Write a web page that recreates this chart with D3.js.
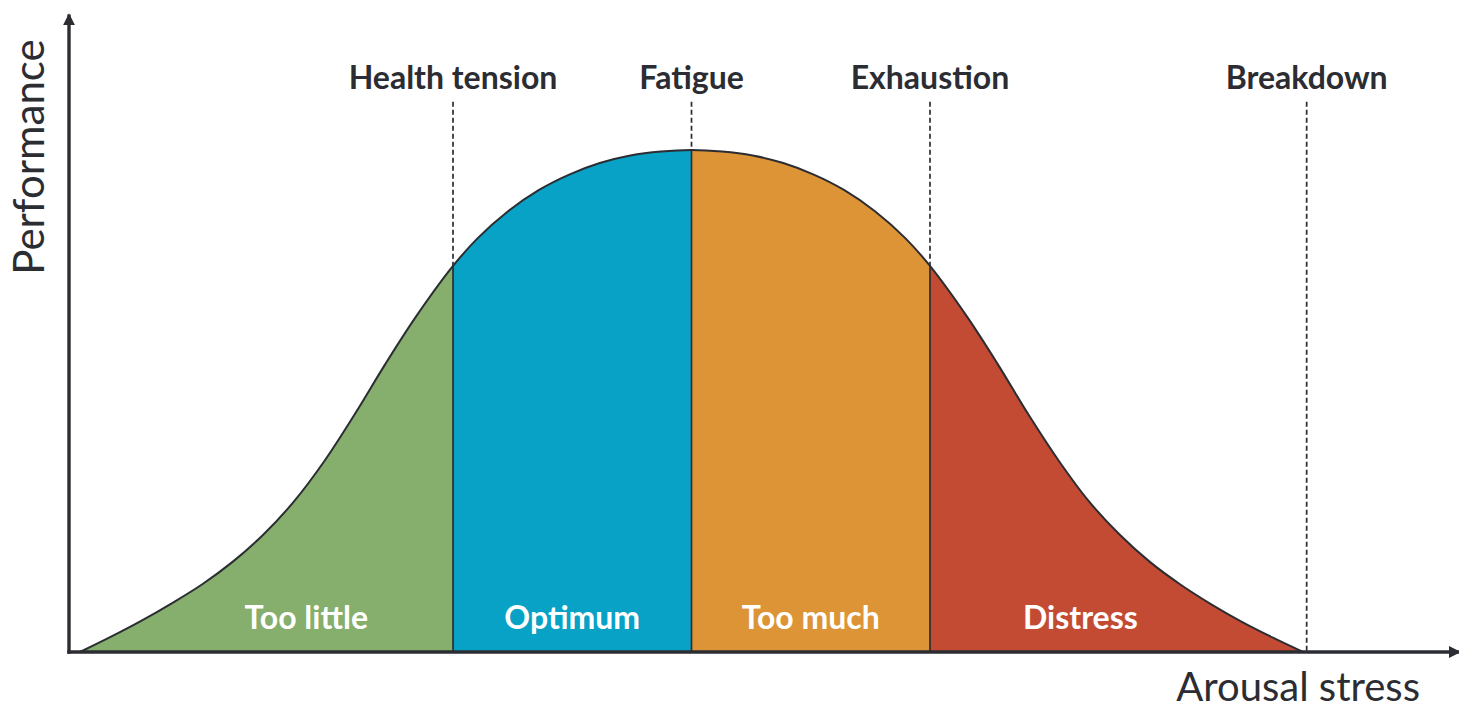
<!DOCTYPE html>
<html>
<head>
<meta charset="utf-8">
<script src="https://cdn.jsdelivr.net/npm/d3@7"></script>
<style>
  body { margin: 0; background: #fff; }
  .label { font-family: Lato, 'Open Sans', sans-serif; fill: #2b2d33; }
  .label--bold { font-weight: 700; }
  .label--zone { fill: #fff; font-weight: 700; }
</style>
</head>
<body>
<svg class="chart"></svg>
<script>
// curve: arousal (x) vs performance (y)
const arousal = [0, 2.5, 5, 7.5, 10, 12.5, 15, 17.5, 20, 22.5, 25, 27.5, 30.5, 32.5, 35, 37.5, 40, 42.5, 45, 47.5,
  50, 52.5, 55, 57.5, 60, 62.5, 65, 67.5, 69.5, 72.5, 75, 77.5, 80, 82.5, 85, 87.5, 90, 92.5, 95, 97.5, 100];
const performance = [0, 3.0, 6.2, 9.7, 13.5, 18.0, 23.4, 30.0, 38.1, 47.5, 57.5, 66.9, 76.9, 82.4, 87.8, 92.0, 95.1, 97.4, 98.9, 99.7,
  100, 99.7, 98.9, 97.4, 95.1, 92.0, 87.8, 82.4, 76.9, 66.9, 57.5, 47.5, 38.2, 30.0, 23.4, 17.9, 13.4, 9.5, 6.0, 2.9, 0];

const zones = ['Too little', 'Optimum', 'Too much', 'Distress'];
const zoneColors = ['#86ae6c', '#08a2c7', '#dd9436', '#c44b33'];
const zoneBounds = [0, 30.5, 50, 69.5];
const markers = ['Health tension', 'Fatigue', 'Exhaustion', 'Breakdown'];
const markerAt = [30.5, 50, 69.5, 100.3];

const startApp = () => {
  const width = 1459;
  const height = 709;
  const ink = '#2b2d33';
  const xScale = d3.scaleLinear().domain([0, 100]).range([80, 1303]);
  const yScale = d3.scaleLinear().domain([0, 100]).range([652, 150]);
  const points = arousal.map((a, i) => ({ a, p: performance[i] }));
  const zoneLabelX = [18.5, 40.25, 59.75, 81.8];

  const svg = d3.select('.chart').attr('width', width).attr('height', height);
  const defs = svg.append('defs');

  defs.append('marker')
    .attr('id', 'arrow').attr('viewBox', '0 0 10 10').attr('refX', 9).attr('refY', 5)
    .attr('markerWidth', 3.6).attr('markerHeight', 3.6).attr('orient', 'auto')
    .append('path').attr('d', 'M0,0 L10,5 L0,10 Z').attr('fill', ink);

  const smooth = d3.curveCatmullRom.alpha(0.5);
  const area = d3.area().x(d => xScale(d.a)).y0(yScale(0)).y1(d => yScale(d.p)).curve(smooth);
  const line = d3.line().x(d => xScale(d.a)).y(d => yScale(d.p)).curve(smooth);

  zones.forEach((zone, i) => {
    const x0 = zoneBounds[i];
    const x1 = i < zones.length - 1 ? zoneBounds[i + 1] : 100;
    defs.append('clipPath').attr('id', `zone${i}`)
      .append('rect')
      .attr('x', xScale(x0)).attr('y', 0)
      .attr('width', xScale(x1) - xScale(x0)).attr('height', height);

    svg.append('path').datum(points)
      .attr('d', area)
      .attr('fill', zoneColors[i])
      .attr('clip-path', `url(#zone${i})`);
  });

  // dashed marker lines above the curve, solid separators below it
  const dashTop = 109.6;
  markerAt.forEach((m, i) => {
    const pt = points.find(d => d.a === m) || { p: 0 };
    svg.append('line')
      .attr('x1', xScale(m)).attr('x2', xScale(m))
      .attr('y1', yScale(dashTop)).attr('y2', yScale(pt.p))
      .attr('stroke', ink).attr('stroke-width', 1.7).attr('stroke-dasharray', '5,3');
    if (i < markerAt.length - 1) {
      svg.append('line')
        .attr('x1', xScale(m)).attr('x2', xScale(m))
        .attr('y1', yScale(pt.p)).attr('y2', yScale(0))
        .attr('stroke', ink).attr('stroke-width', 1.7);
    }
    svg.append('text')
      .classed('label label--bold', true)
      .attr('x', xScale(m)).attr('y', 89)
      .attr('text-anchor', 'middle')
      .style('font-size', '32px')
      .text(markers[i]);
  });

  svg.append('path').datum(points)
    .attr('d', line).attr('fill', 'none')
    .attr('stroke', ink).attr('stroke-width', 2);

  zones.forEach((zone, i) => {
    svg.append('text')
      .classed('label label--zone', true)
      .attr('x', xScale(zoneLabelX[i])).attr('y', 629)
      .attr('text-anchor', 'middle')
      .style('font-size', '32px')
      .text(zone);
  });

  // axes
  const axisX = 69;
  svg.append('line')
    .attr('x1', axisX).attr('x2', axisX)
    .attr('y1', yScale(0) + 1.7).attr('y2', yScale(127))
    .attr('stroke', ink).attr('stroke-width', 3.4).attr('marker-end', 'url(#arrow)');
  svg.append('line')
    .attr('x1', axisX - 1.7).attr('x2', xScale(112.8))
    .attr('y1', yScale(0)).attr('y2', yScale(0))
    .attr('stroke', ink).attr('stroke-width', 3.4).attr('marker-end', 'url(#arrow)');

  svg.append('text')
    .classed('label', true)
    .attr('transform', 'translate(44, 157) rotate(-90)')
    .attr('text-anchor', 'middle')
    .style('font-size', '42px')
    .text('Performance');

  svg.append('text')
    .classed('label', true)
    .attr('x', 1420).attr('y', 701)
    .attr('text-anchor', 'end')
    .style('font-size', '40px')
    .text('Arousal stress');
};

window.onload = startApp;
</script>
</body>
</html>
